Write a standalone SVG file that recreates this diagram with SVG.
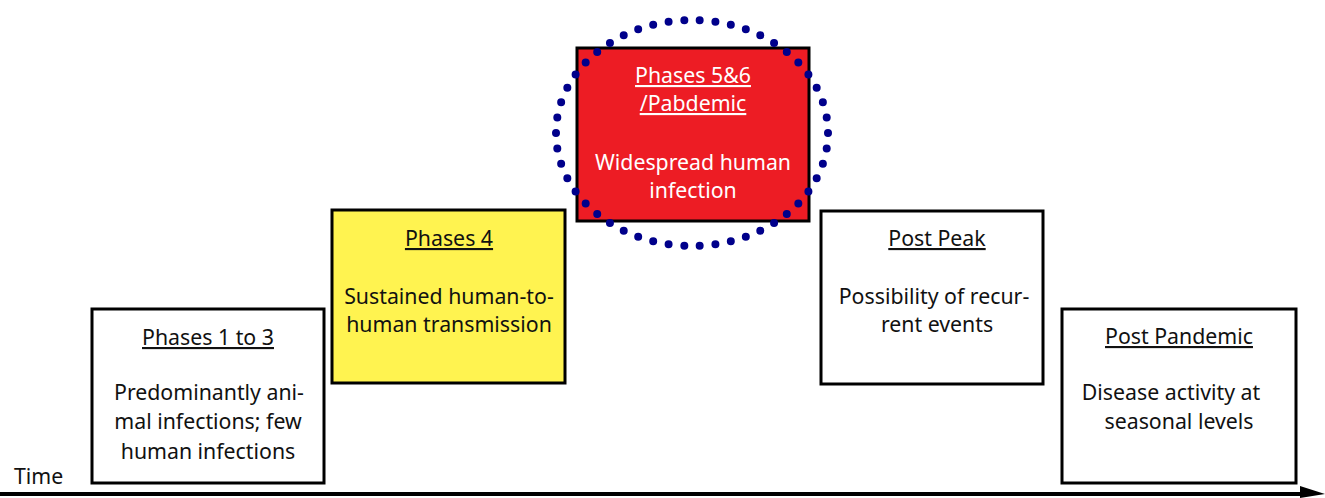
<svg xmlns="http://www.w3.org/2000/svg" width="1325" height="498" viewBox="0 0 1325 498">
<style>
.box{stroke:#000;stroke-width:3}
text{font-family:"Noto Sans","Lato",sans-serif;font-size:21.3px;text-anchor:middle;fill:#111}
.t{text-decoration:underline}
.w{fill:#fff}
</style>
<rect width="1325" height="498" fill="#fff"/>
<g id="connectors">
<line x1="0" y1="494" x2="1306" y2="494" stroke="#000" stroke-width="4"/>
<polygon points="1300,486 1325,494 1300,498" fill="#000"/>
</g>
<text x="14" y="484" style="text-anchor:start">Time</text>
<g id="phase1">
<rect class="box" x="92" y="309" width="232" height="174" fill="#fff"/>
<text class="t" x="208" y="345">Phases 1 to 3</text>
<text x="209" y="400">Predominantly ani-</text>
<text x="208" y="429">mal infections; few</text>
<text x="208" y="459">human infections</text>
</g>
<g id="phase4">
<rect class="box" x="332" y="210" width="233" height="173" fill="#fff350"/>
<text class="t" x="449" y="246">Phases 4</text>
<text x="449" y="304">Sustained human-to-</text>
<text x="449" y="332">human transmission</text>
</g>
<g id="phase56">
<rect class="box" x="577" y="48" width="232" height="173" fill="#ed1c24"/>
<text class="t w" x="693" y="83">Phases 5&amp;6</text>
<text class="t w" x="693" y="111">/Pabdemic</text>
<text class="w" x="693" y="170">Widespread human</text>
<text class="w" x="693" y="198">infection</text>
<ellipse cx="692" cy="133" rx="136" ry="113" fill="none" stroke="#00008b" stroke-width="8" stroke-linecap="round" stroke-dasharray="0 1" pathLength="50"/>
</g>
<g id="postpeak">
<rect class="box" x="821" y="211" width="222" height="173" fill="#fff"/>
<text class="t" x="937" y="246">Post Peak</text>
<text x="934" y="304">Possibility of recur-</text>
<text x="937" y="332">rent events</text>
</g>
<g id="postpandemic">
<rect class="box" x="1062" y="309" width="234" height="174" fill="#fff"/>
<text class="t" x="1179" y="344">Post Pandemic</text>
<text x="1171" y="400">Disease activity at</text>
<text x="1179" y="429">seasonal levels</text>
</g>
</svg>
